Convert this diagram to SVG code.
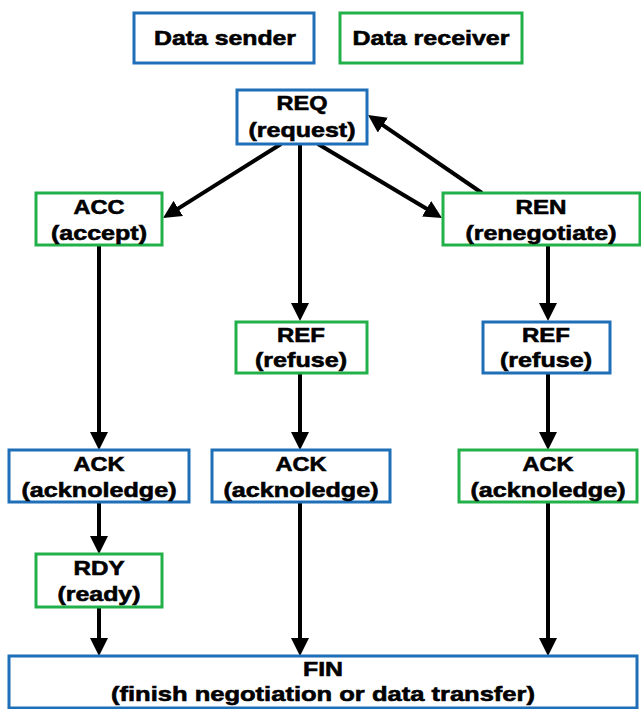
<svg xmlns="http://www.w3.org/2000/svg" width="641" height="709" viewBox="0 0 641 709">
<defs>
<style>
.box{fill:#fff;stroke-width:3}
.s{stroke:#1f6fb8}
.r{stroke:#22b04b}
text{font-family:"Liberation Sans",Arial,sans-serif;font-weight:bold;font-size:21px;text-anchor:middle;fill:#000;stroke:#000;stroke-width:0.6}
.c line{stroke:#000;stroke-width:4;marker-end:url(#ah)}
</style>
<marker id="ah" markerUnits="userSpaceOnUse" markerWidth="18" markerHeight="18" viewBox="0 0 18 18" refX="4" refY="9" orient="auto">
<path d="M0,0 L18,9 L0,18 z" fill="#000"/>
</marker>
</defs>
<rect width="641" height="709" fill="#fff"/>
<g id="legend-sender"><rect class="box s" x="134" y="13" width="180" height="50"/><text x="225" y="45" textLength="142" lengthAdjust="spacingAndGlyphs">Data sender</text></g>
<g id="legend-receiver"><rect class="box r" x="340" y="13" width="182" height="50"/><text x="431" y="45" textLength="157" lengthAdjust="spacingAndGlyphs">Data receiver</text></g>

<g class="c" id="connectors">
<line x1="281" y1="144" x2="174.9" y2="210.6"/>
<line x1="300" y1="145" x2="300" y2="307"/>
<line x1="318" y1="144" x2="430" y2="210.8"/>
<line x1="482" y1="193" x2="379.6" y2="122.9"/>
<line x1="99" y1="245" x2="99" y2="436"/>
<line x1="548" y1="245" x2="548" y2="307"/>
<line x1="300" y1="373" x2="300" y2="436"/>
<line x1="548" y1="373" x2="548" y2="436"/>
<line x1="99" y1="502" x2="99" y2="540"/>
<line x1="99" y1="607" x2="99" y2="642"/>
<line x1="300" y1="502" x2="300" y2="642"/>
<line x1="548" y1="502" x2="548" y2="642"/>
</g>

<g id="REQ"><rect class="box s" x="237" y="90" width="130" height="54"/><text x="302" y="110" textLength="51" lengthAdjust="spacingAndGlyphs">REQ</text><text x="302" y="137" textLength="107" lengthAdjust="spacingAndGlyphs">(request)</text></g>
<g id="ACC"><rect class="box r" x="36" y="193" width="126" height="52"/><text x="99" y="214" textLength="51" lengthAdjust="spacingAndGlyphs">ACC</text><text x="99" y="240" textLength="96" lengthAdjust="spacingAndGlyphs">(accept)</text></g>
<g id="REN"><rect class="box r" x="443" y="193" width="197" height="52"/><text x="541" y="214" textLength="51" lengthAdjust="spacingAndGlyphs">REN</text><text x="541" y="240" textLength="151" lengthAdjust="spacingAndGlyphs">(renegotiate)</text></g>
<g id="REF1"><rect class="box r" x="236" y="322" width="131" height="51"/><text x="301" y="342" textLength="48" lengthAdjust="spacingAndGlyphs">REF</text><text x="301" y="367" textLength="92" lengthAdjust="spacingAndGlyphs">(refuse)</text></g>
<g id="REF2"><rect class="box s" x="483" y="322" width="127" height="51"/><text x="546" y="342" textLength="48" lengthAdjust="spacingAndGlyphs">REF</text><text x="546" y="367" textLength="92" lengthAdjust="spacingAndGlyphs">(refuse)</text></g>
<g id="ACK1"><rect class="box s" x="9" y="450" width="180" height="52"/><text x="99" y="471" textLength="51" lengthAdjust="spacingAndGlyphs">ACK</text><text x="99" y="497" textLength="155" lengthAdjust="spacingAndGlyphs">(acknoledge)</text></g>
<g id="ACK2"><rect class="box s" x="212" y="450" width="178" height="52"/><text x="301" y="471" textLength="51" lengthAdjust="spacingAndGlyphs">ACK</text><text x="301" y="497" textLength="155" lengthAdjust="spacingAndGlyphs">(acknoledge)</text></g>
<g id="ACK3"><rect class="box r" x="459" y="450" width="178" height="52"/><text x="548" y="471" textLength="51" lengthAdjust="spacingAndGlyphs">ACK</text><text x="548" y="497" textLength="155" lengthAdjust="spacingAndGlyphs">(acknoledge)</text></g>
<g id="RDY"><rect class="box r" x="36" y="554" width="126" height="53"/><text x="99" y="575" textLength="51" lengthAdjust="spacingAndGlyphs">RDY</text><text x="99" y="601" textLength="83" lengthAdjust="spacingAndGlyphs">(ready)</text></g>
<g id="FIN"><rect class="box s" x="9" y="656" width="628" height="52"/><text x="323" y="676" textLength="40" lengthAdjust="spacingAndGlyphs">FIN</text><text x="323" y="701" textLength="424" lengthAdjust="spacingAndGlyphs">(finish negotiation or data transfer)</text></g>
</svg>
